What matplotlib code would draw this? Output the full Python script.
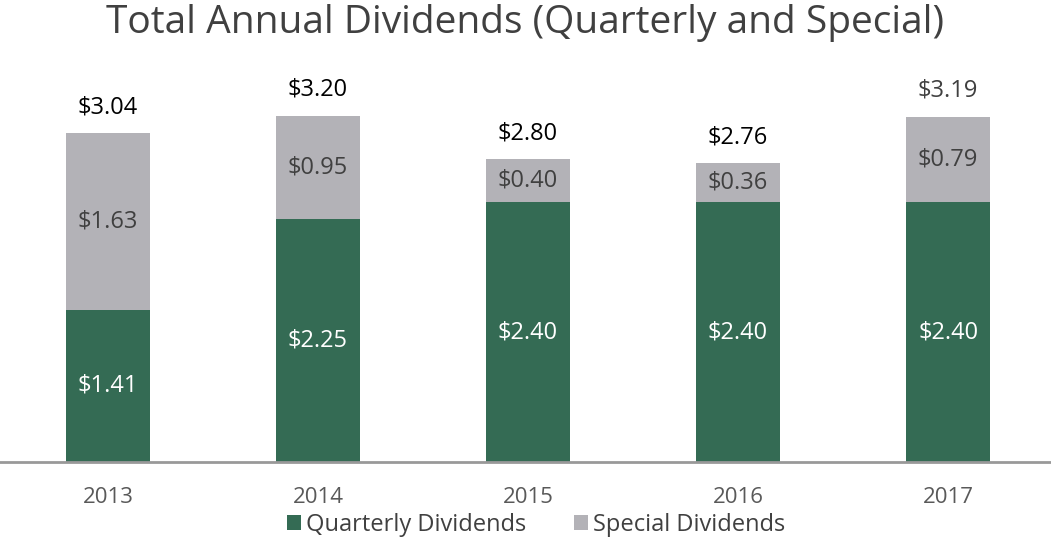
import matplotlib.pyplot as plt
import numpy as np

plt.rcParams['font.family'] = ['Open Sans', 'DejaVu Sans']

years = ['2013', '2014', '2015', '2016', '2017']
quarterly = [1.41, 2.25, 2.40, 2.40, 2.40]
special = [1.63, 0.95, 0.40, 0.36, 0.79]
totals = [3.04, 3.20, 2.80, 2.76, 3.19]

green = '#346B54'
grey = '#B3B2B7'
dark = '#404040'

fig = plt.figure(figsize=(10.51, 5.43), dpi=100)
ax = fig.add_axes([0, 0.149, 1, 0.80])

x = np.arange(len(years))
b1 = ax.bar(x, quarterly, width=0.4, color=green, label='Quarterly Dividends')
b2 = ax.bar(x, special, width=0.4, bottom=quarterly, color=grey, label='Special Dividends')

for i in range(len(years)):
    ax.text(x[i], quarterly[i] / 2, '$%.2f' % quarterly[i], ha='center', va='center',
            color='white', fontsize=17)
    ax.text(x[i], quarterly[i] + special[i] / 2, '$%.2f' % special[i], ha='center', va='center',
            color=dark, fontsize=17)
    tc = dark if i == 4 else 'black'
    ax.text(x[i], totals[i] + 0.24, '$%.2f' % totals[i], ha='center', va='center',
            color=tc, fontsize=17)

ax.set_xlim(-0.514, 4.49)
ax.set_ylim(0, 4.015)
ax.set_xticks(x)
ax.set_xticklabels(years, color='#595959', fontsize=16)
ax.tick_params(axis='x', length=0, pad=18)
ax.set_yticks([])
for s in ['top', 'right', 'left']:
    ax.spines[s].set_visible(False)
ax.spines['bottom'].set_color('#999999')
ax.spines['bottom'].set_linewidth(2)

fig.text(0.5, 0.957, 'Total Annual Dividends (Quarterly and Special)', ha='center', va='center',
         color=dark, fontsize=28)

fig.legend(handles=[b1, b2], loc='center', bbox_to_anchor=(0.51, 0.033), ncol=2, frameon=False,
           fontsize=17, handlelength=0.6, handleheight=0.6, handletextpad=0.2, columnspacing=2.0,
           labelcolor=dark)

fig.savefig('out.png', dpi=100)
